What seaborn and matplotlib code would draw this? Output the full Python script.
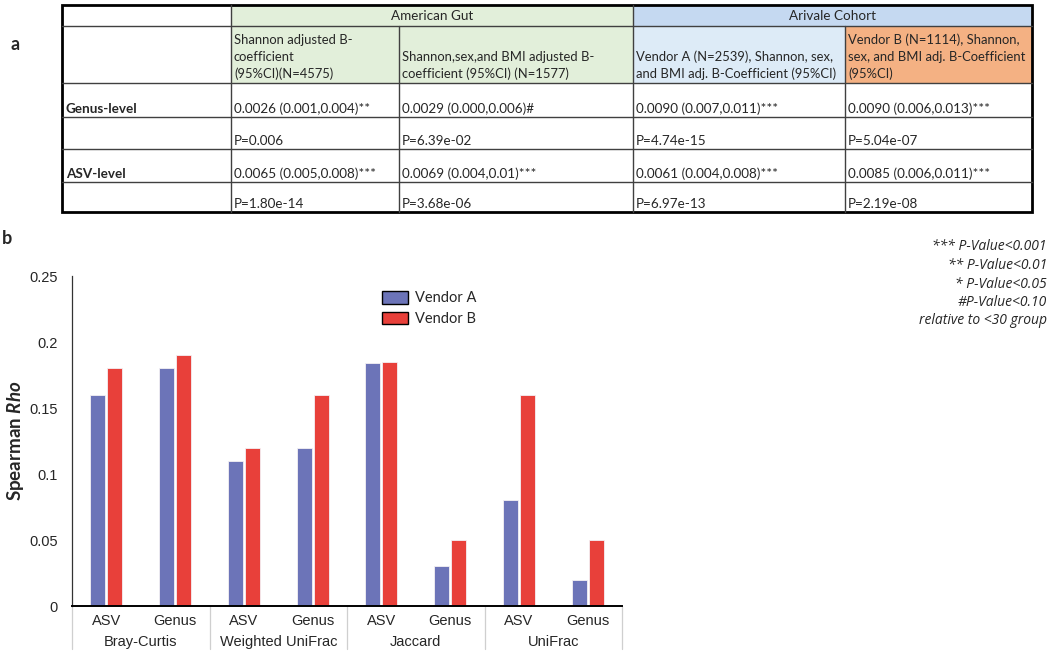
import matplotlib
matplotlib.use("Agg")
import matplotlib.pyplot as plt
import matplotlib.patches as mpatches
import seaborn as sns
import pandas as pd

# ---- data: table (panel a) ----
row_labels = ["Genus-level", "", "ASV-level", ""]
group_headers = ["American Gut", "Arivale Cohort"]
col_headers = [
    "Shannon adjusted B-\ncoefficient\n(95%CI)(N=4575)",
    "Shannon,sex,and BMI adjusted B-\ncoefficient (95%CI) (N=1577)",
    "Vendor A (N=2539), Shannon, sex,\nand BMI adj. B-Coefficient (95%CI)",
    "Vendor B (N=1114), Shannon,\nsex, and BMI adj. B-Coefficient\n(95%CI)",
]
genus_coef = ["0.0026 (0.001,0.004)**", "0.0029 (0.000,0.006)#",
              "0.0090 (0.007,0.011)***", "0.0090 (0.006,0.013)***"]
genus_p = ["P=0.006", "P=6.39e-02", "P=4.74e-15", "P=5.04e-07"]
asv_coef = ["0.0065 (0.005,0.008)***", "0.0069 (0.004,0.01)***",
            "0.0061 (0.004,0.008)***", "0.0085 (0.006,0.011)***"]
asv_p = ["P=1.80e-14", "P=3.68e-06", "P=6.97e-13", "P=2.19e-08"]

# ---- data: bars (panel b) ----
metrics = ["Bray-Curtis", "Weighted UniFrac", "Jaccard", "UniFrac"]
levels = ["ASV", "Genus"]
vendor_a = [0.16, 0.18, 0.11, 0.12, 0.184, 0.03, 0.08, 0.02]
vendor_b = [0.18, 0.19, 0.12, 0.16, 0.185, 0.05, 0.16, 0.05]

footnotes = ["*** P-Value<0.001", "** P-Value<0.01", "* P-Value<0.05",
             "#P-Value<0.10", "relative to <30 group"]

sns.set_style("white")
plt.rcParams["font.family"] = ["Lato", "DejaVu Sans"]
plt.rcParams["mathtext.fontset"] = "custom"
plt.rcParams["mathtext.bfit"] = "Lato:bold:italic"

fig = plt.figure(figsize=(10.5, 6.6), dpi=100)

# overlay axes in pixel coordinates for table and free text
ov = fig.add_axes([0, 0, 1, 1])
ov.set_xlim(0, 1050)
ov.set_ylim(660, 0)
ov.axis("off")
ov.patch.set_alpha(0)

xs = [62, 231, 399, 633, 845, 1032]
ys = [5, 26, 83, 117, 149, 182, 212]

green = "#e2efda"
# header fills
ov.add_patch(mpatches.Rectangle((xs[1], ys[0]), xs[3] - xs[1], ys[2] - ys[0], color=green, lw=0))
ov.add_patch(mpatches.Rectangle((xs[3], ys[0]), xs[5] - xs[3], ys[1] - ys[0], color="#c5d9f1", lw=0))
ov.add_patch(mpatches.Rectangle((xs[3], ys[1]), xs[4] - xs[3], ys[2] - ys[1], color="#ddebf7", lw=0))
ov.add_patch(mpatches.Rectangle((xs[4], ys[1]), xs[5] - xs[4], ys[2] - ys[1], color="#f4b183", lw=0))

# grid lines
for y in ys[1:-1]:
    ov.plot([xs[0], xs[-1]], [y, y], color="#404040", lw=1)
for i, x in enumerate(xs[1:-1], start=1):
    y0 = ys[1] if i in (2, 4) else ys[0]
    ov.plot([x, x], [y0, ys[-1]], color="#404040", lw=1)
ov.add_patch(mpatches.Rectangle((xs[0], ys[0]), xs[-1] - xs[0], ys[-1] - ys[0],
                                fill=False, edgecolor="black", lw=2))

tfs = 9.7
hfs = 9.4
ov.text((xs[1] + xs[3]) / 2, 16, group_headers[0], ha="center", va="center", fontsize=tfs)
ov.text((xs[3] + xs[5]) / 2, 16, group_headers[1], ha="center", va="center", fontsize=tfs)
for j, h in enumerate(col_headers):
    ov.text(xs[j + 1] + 3, ys[2] - 3, h, ha="left", va="bottom", fontsize=hfs, linespacing=1.45)

body = [genus_coef, genus_p, asv_coef, asv_p]
for r, vals in enumerate(body):
    ybase = ys[r + 3] - 8
    if row_labels[r]:
        ov.text(xs[0] + 4, ybase, row_labels[r], ha="left", va="center", fontsize=tfs, fontweight="bold")
    for j, v in enumerate(vals):
        ov.text(xs[j + 1] + 3, ybase, v, ha="left", va="center", fontsize=tfs)

ov.text(15, 45, "a", fontsize=13, fontweight="bold", ha="center", va="center")
ov.text(7, 238, "b", fontsize=13, fontweight="bold", ha="center", va="center")

for k, s in enumerate(footnotes):
    ov.text(1047, 247 + k * 18.5, s, ha="right", va="center", fontsize=10,
            fontstyle="italic", family=["Open Sans", "DejaVu Sans"])

# ---- bar chart ----
ax = fig.add_axes([72 / 1050, 1 - 606 / 660, 550 / 1050, 330 / 660])
keys = [f"{m}|{lv}" for m in metrics for lv in levels]
df = pd.DataFrame({
    "key": keys * 2,
    "rho": vendor_a + vendor_b,
    "vendor": ["Vendor A"] * len(keys) + ["Vendor B"] * len(keys),
})
colors = {"Vendor A": "#6c74b8", "Vendor B": "#e8403a"}
sns.barplot(data=df, x="key", y="rho", hue="vendor", order=keys, palette=colors,
            saturation=1, width=0.5, gap=0.13, edgecolor="#f4f0f4", linewidth=0.6,
            ax=ax, legend=False)

ax.set_ylim(0, 0.25)
ax.set_xlim(-0.5, len(keys) - 0.5)
ax.set_yticks([0, 0.05, 0.1, 0.15, 0.2, 0.25])
ax.set_yticklabels(["0", "0.05", "0.1", "0.15", "0.2", "0.25"],
                   family=["Liberation Sans", "DejaVu Sans"], fontsize=10.5)
ax.set_xticks(range(len(keys)))
ax.set_xticklabels([k.split("|")[1] for k in keys], family=["Liberation Sans", "DejaVu Sans"],
                   fontsize=10.5)
ax.tick_params(axis="both", length=0)
ax.tick_params(axis="y", pad=10)
ax.tick_params(axis="x", pad=6)
ax.set_xlabel("")
ax.set_ylabel("Spearman $\\mathbfit{Rho}$", fontsize=13.5, fontweight="bold")
ax.yaxis.set_label_coords(-46 / 550, 0.5)
for s in ["top", "right"]:
    ax.spines[s].set_visible(False)
ax.spines["left"].set_color("#333333")
ax.spines["left"].set_linewidth(0.9)
ax.spines["bottom"].set_color("black")
ax.spines["bottom"].set_linewidth(1.4)

# group separators and names
for b in [-0.5, 1.5, 3.5, 5.5, 7.5]:
    ax.plot([b, b], [0, -0.13], transform=ax.get_xaxis_transform(), color="#cfcfcf",
            lw=0.9, clip_on=False)
for i, m in enumerate(metrics):
    ax.text(2 * i + 0.5, -0.109, m, transform=ax.get_xaxis_transform(), ha="center",
            va="center", fontsize=10.5, family=["Liberation Sans", "DejaVu Sans"])

handles = [mpatches.Patch(facecolor=colors[v], edgecolor="black", lw=1, label=v) for v in colors]
ax.legend(handles=handles, loc="upper left", bbox_to_anchor=(382 / 1050, 1 - 291 / 660),
          bbox_transform=fig.transFigure, frameon=False, fontsize=10.5, handlelength=1.8,
          handleheight=0.95, handletextpad=0.45, labelspacing=0.45, borderpad=0,
          borderaxespad=0)

fig.savefig("out.png", dpi=100)
